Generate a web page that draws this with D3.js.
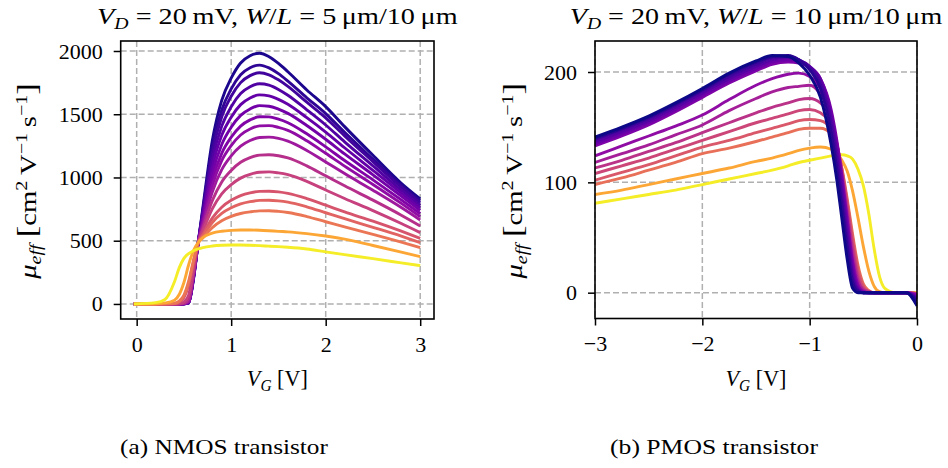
<!DOCTYPE html>
<html lang="en">
<head>
    <meta charset="UTF-8">
    <title>Effective mobility</title>
    <script src="https://cdn.jsdelivr.net/npm/d3@7"></script>
    <style>
        body { margin: 0; background: white; }
        svg { display: block; }
        text { font-family: "Liberation Serif", "Times New Roman", serif; fill: black; }
        .tick text { font-size: 22px; }
        .grid line { stroke: #b0b0b0; stroke-width: 1.5; stroke-dasharray: 6,3; }
    </style>
</head>
<body>
<script>
    // ---- NMOS data (left panel), V_G in V, mu_eff in cm^2/Vs ----
    const vgN = [-0.03, 0.2, 0.3, 0.4, 0.45, 0.5, 0.55, 0.6, 0.65, 0.7, 0.8, 0.9, 1.0, 1.1, 1.2, 1.3, 1.4, 1.5, 1.6, 1.8, 2.0, 2.2, 2.5, 2.8, 3.0];
    const muN = [
        [0, 0, 0, 0, 0, 1, 8, 190, 480, 760, 1290, 1610, 1785, 1905, 1963, 1982, 1955, 1902, 1836, 1692, 1560, 1402, 1175, 954, 830],
        [0, 0, 0, 0, 0, 1, 9, 195, 480, 741, 1234, 1533, 1700, 1812, 1868, 1888, 1866, 1821, 1762, 1630, 1505, 1357, 1145, 936, 815],
        [0, 0, 0, 0, 0, 1, 10, 200, 480, 727, 1193, 1480, 1642, 1750, 1805, 1828, 1812, 1772, 1720, 1595, 1471, 1329, 1125, 923, 800],
        [0, 0, 0, 0, 0, 1, 11, 203, 480, 709, 1138, 1406, 1559, 1663, 1717, 1741, 1730, 1696, 1650, 1535, 1415, 1282, 1091, 899, 780],
        [0, 0, 0, 0, 0, 2, 12, 206, 480, 691, 1083, 1333, 1477, 1576, 1629, 1653, 1645, 1618, 1579, 1473, 1359, 1235, 1056, 876, 760],
        [0, 0, 0, 0, 0, 2, 14, 210, 480, 673, 1031, 1261, 1397, 1491, 1542, 1568, 1563, 1540, 1507, 1411, 1302, 1186, 1021, 852, 740],
        [0, 0, 0, 0, 0, 2, 16, 214, 480, 656, 979, 1191, 1318, 1406, 1455, 1480, 1479, 1461, 1433, 1345, 1242, 1134, 981, 823, 715],
        [0, 0, 0, 0, 0, 3, 18, 218, 480, 641, 936, 1133, 1252, 1336, 1383, 1408, 1410, 1396, 1372, 1290, 1191, 1090, 945, 795, 690],
        [0, 0, 0, 0, 0, 3, 20, 222, 480, 623, 885, 1062, 1171, 1247, 1292, 1316, 1319, 1309, 1287, 1214, 1123, 1031, 899, 762, 664],
        [0, 0, 0, 0, 1, 5, 40, 240, 480, 600, 817, 965, 1056, 1120, 1157, 1177, 1180, 1172, 1155, 1092, 1013, 934, 821, 702, 617],
        [0, 0, 0, 0, 2, 15, 70, 270, 480, 576, 752, 871, 944, 995, 1025, 1041, 1044, 1036, 1022, 969, 901, 834, 738, 636, 564],
        [0, 0, 0, 3, 15, 50, 150, 320, 480, 550, 678, 765, 819, 856, 878, 890, 891, 886, 874, 833, 781, 728, 654, 575, 519],
        [0, 0, 1, 4, 18, 60, 165, 330, 480, 538, 644, 716, 760, 791, 809, 819, 820, 815, 805, 768, 721, 674, 606, 536, 485],
        [0, 0, 1, 5, 22, 70, 180, 340, 480, 524, 604, 658, 692, 715, 728, 736, 737, 732, 723, 691, 650, 609, 550, 489, 445],
        [0, 2, 8, 30, 75, 170, 310, 420, 485, 525, 560, 575, 582, 585, 585, 583, 579, 574, 570, 556, 537, 512, 462, 410, 374],
        [0, 10, 35, 175, 285, 360, 398, 420, 435, 446, 458, 464, 466, 466, 464, 461, 457, 453, 448, 434, 412, 390, 358, 325, 303]
    ];
    const colN = [0.02, 0.06, 0.10, 0.14, 0.18, 0.22, 0.26, 0.30, 0.34, 0.42, 0.48, 0.55, 0.60, 0.66, 0.80, 0.97];

    // ---- PMOS data (right panel) ----
    const vgP = [-3, -2.75, -2.5, -2.25, -2, -1.75, -1.5, -1.35, -1.2, -1.1, -1.0, -0.9, -0.8, -0.75, -0.7, -0.65, -0.6, -0.55, -0.5, -0.45, -0.4, -0.35, -0.3, -0.2, -0.1, 0];
    const muP = [
        [141, 150, 160, 172, 185, 199, 210, 215, 214, 208, 197, 177, 134, 104, 67, 30, 4, 0, 0, 0, 0, 0, 0, 0, 0, -12],
        [140, 149, 159, 171, 184, 198, 209, 214, 215, 211, 202, 185, 145, 114, 78, 40, 9, 1, 0, 0, 0, 0, 0, 0, 0, -8],
        [139, 148, 158, 170, 183, 196, 207, 213, 214, 211, 204, 189, 152, 122, 86, 47, 13, 2, 0, 0, 0, 0, 0, 0, 0, -6],
        [137, 146, 156, 168, 181, 194, 205, 211, 213, 211, 205, 192, 158, 129, 93, 54, 17, 3, 0, 0, 0, 0, 0, 0, 0, -5],
        [135, 144, 154, 166, 179, 192, 203, 209, 211, 210, 205, 194, 163, 135, 100, 60, 22, 4, 0, 0, 0, 0, 0, 0, 0, -4],
        [133, 142, 152, 164, 177, 190, 201, 207, 209, 208, 204, 194, 166, 140, 106, 66, 27, 6, 1, 0, 0, 0, 0, 0, 0, -3],
        [124, 133, 142, 151, 161, 175, 188, 194, 198, 199, 196, 185, 160, 135, 102, 65, 28, 7, 1, 0, 0, 0, 0, 0, 0, -2],
        [118, 126, 134, 143, 152, 165, 176, 182, 186, 187, 188, 180, 160, 137, 106, 70, 33, 10, 2, 0, 0, 0, 0, 0, 0, -2],
        [113, 120, 128, 136, 145, 154, 163, 168, 172, 175, 176, 172, 156, 137, 109, 75, 39, 13, 3, 1, 0, 0, 0, 0, 0, -1],
        [108, 115, 122, 130, 138, 146, 154, 158, 162, 165, 166, 163, 152, 136, 111, 79, 44, 17, 4, 1, 0, 0, 0, 0, 0, -1],
        [102, 109, 116, 124, 132, 138, 145, 149, 153, 156, 157, 156, 148, 135, 112, 82, 49, 21, 6, 1, 0, 0, 0, 0, 0, -1],
        [98, 104, 111, 118, 126, 131, 137, 141, 145, 148, 149, 149, 144, 133, 113, 85, 53, 25, 8, 2, 0, 0, 0, 0, 0, -1],
        [89, 93, 98, 103, 108, 113, 119, 122, 126, 129, 131, 132, 130, 127, 120, 110, 92, 68, 42, 20, 6, 1, 0, 0, 0, 0],
        [81, 85, 89, 93, 98, 103, 108, 111, 115, 118, 120, 122, 124, 125, 125, 124, 121, 112, 97, 72, 40, 15, 4, 0, 0, 0]
    ];
    const colP = [0.0, 0.05, 0.10, 0.15, 0.20, 0.25, 0.30, 0.36, 0.43, 0.50, 0.56, 0.64, 0.80, 0.97];

    const ticksN = { x: [0, 1, 2, 3], y: [0, 500, 1000, 1500, 2000] };
    const ticksP = { x: [-3, -2, -1, 0], y: [0, 100, 200] };

    const width = 948, height = 468;
    const svg = d3.select("body").append("svg")
        .attr("width", width).attr("height", height);

    // adds math-like text made of [string, style, dy, size] parts
    function mathText(sel, parts) {
        parts.forEach(p => {
            const t = sel.append("tspan").text(p[0]);
            if (p[1] && p[1].includes("i")) t.attr("font-style", "italic");
            if (p[1] && p[1].includes("sub")) t.attr("font-size", "70%").attr("dy", 5);
            if (p[1] && p[1].includes("sup")) t.attr("font-size", "70%").attr("dy", -9);
            if (p[2]) t.attr("dy", p[2]);
            if (p[3]) t.attr("font-size", p[3]);
        });
    }

    // text in a group, stretched a little to the reference width
    function fitText(parent, x, y, rot, target, size, fill) {
        const g = parent.append("g");
        const t = g.append("text").attr("text-anchor", "middle").attr("font-size", size);
        fill(t);
        const w = t.node().getBBox().width;
        g.attr("transform", `translate(${x},${y}) rotate(${rot}) scale(${target / w},1)`);
        return g;
    }

    function drawPanel(o) {
        const x = d3.scaleLinear().domain(o.xDom).range([o.left, o.right]);
        const y = d3.scaleLinear().domain(o.yDom).range([o.bottom, o.top]);
        const g = svg.append("g");
        const clipId = "clip" + o.id;
        svg.append("clipPath").attr("id", clipId).append("rect")
            .attr("x", o.left).attr("y", o.top)
            .attr("width", o.right - o.left).attr("height", o.bottom - o.top);

        // grid
        g.append("g").attr("class", "grid")
            .selectAll("line").data(o.ticks.x).enter().append("line")
            .attr("x1", d => x(d)).attr("x2", d => x(d))
            .attr("y1", o.top).attr("y2", o.bottom);
        g.append("g").attr("class", "grid")
            .selectAll("line").data(o.ticks.y).enter().append("line")
            .attr("y1", d => y(d)).attr("y2", d => y(d))
            .attr("x1", o.left).attr("x2", o.right);

        // curves
        const line = d3.line()
            .x((d, i) => x(o.xs[i]))
            .y(d => y(d))
            .curve(d3.curveMonotoneX);
        const order = o.series.map((s, i) => i);
        if (o.reverse) order.reverse();
        g.append("g").attr("clip-path", `url(#${clipId})`)
            .selectAll("path").data(order).enter().append("path")
            .attr("d", i => line(o.series[i]))
            .attr("fill", "none")
            .attr("stroke", i => d3.interpolatePlasma(o.colors[i]))
            .attr("stroke-width", 2.9)
            .attr("stroke-linejoin", "round");

        // axes
        const ax = g.append("g").attr("transform", `translate(0,${o.bottom})`)
            .call(d3.axisBottom(x).tickValues(o.ticks.x).tickSize(7).tickPadding(10).tickFormat(d3.format("d")));
        const ay = g.append("g").attr("transform", `translate(${o.left},0)`)
            .call(d3.axisLeft(y).tickValues(o.ticks.y).tickSize(7).tickPadding(11).tickFormat(d3.format("d")));
        [ax, ay].forEach(a => {
            a.attr("font-family", null).attr("font-size", null);
            a.select(".domain").remove();
            a.selectAll(".tick line").attr("stroke", "black").attr("stroke-width", 1.5);
        });

        g.append("rect")
            .attr("x", o.left).attr("y", o.top)
            .attr("width", o.right - o.left).attr("height", o.bottom - o.top)
            .attr("fill", "none").attr("stroke", "black").attr("stroke-width", 1.6);

        const cx = (o.left + o.right) / 2;
        // title
        fitText(g, cx, 24, 0, o.titleW, 24, t => mathText(t, [["V", "i"], ["D", "i sub"], [" = 20\u2009mV, ", "", -5],
            ["W", "i"], ["/"], ["L", "i"], [" = " + o.wl]]));
        // x label
        fitText(g, cx, 386, 0, 61, 23, t => mathText(t, [["V", "i"], ["G", "i sub"], [" [V]", "", -5]]));
        // y label
        fitText(g, o.ylx, (o.top + o.bottom) / 2 + 1, -90, 197, 23, t => mathText(t, [["\u03bc", "i"], ["eff", "i sub"],
            [" ", "", -5], ["[", "", 0, 28], ["cm"], ["2", "sup"], ["\u2009V", "", 9], ["\u22121", "sup"],
            ["\u2009s", "", 9], ["\u22121", "sup"], ["]", "", 9, 28]]));
        // caption
        fitText(g, o.capx, 454, 0, 208, 21, t => t.text(o.caption));
    }

    drawPanel({
        id: "N", xs: vgN, series: muN, colors: colN, ticks: ticksN,
        xDom: [-0.169, 3.146], yDom: [-119, 2079],
        left: 120.7, right: 434, top: 41, bottom: 319,
        wl: "5\u2009\u03bcm/10\u2009\u03bcm", titleW: 361, ylx: 36, capx: 224,
        caption: "(a) NMOS transistor", reverse: false
    });
    drawPanel({
        id: "P", xs: vgP, series: muP, colors: colP, ticks: ticksP,
        xDom: [-3, 0], yDom: [-23.4, 228.1],
        left: 595, right: 917, top: 41, bottom: 318.5,
        wl: "10\u2009\u03bcm/10\u2009\u03bcm", titleW: 373, ylx: 522, capx: 714,
        caption: "(b) PMOS transistor", reverse: true
    });
</script>
</body>
</html>
